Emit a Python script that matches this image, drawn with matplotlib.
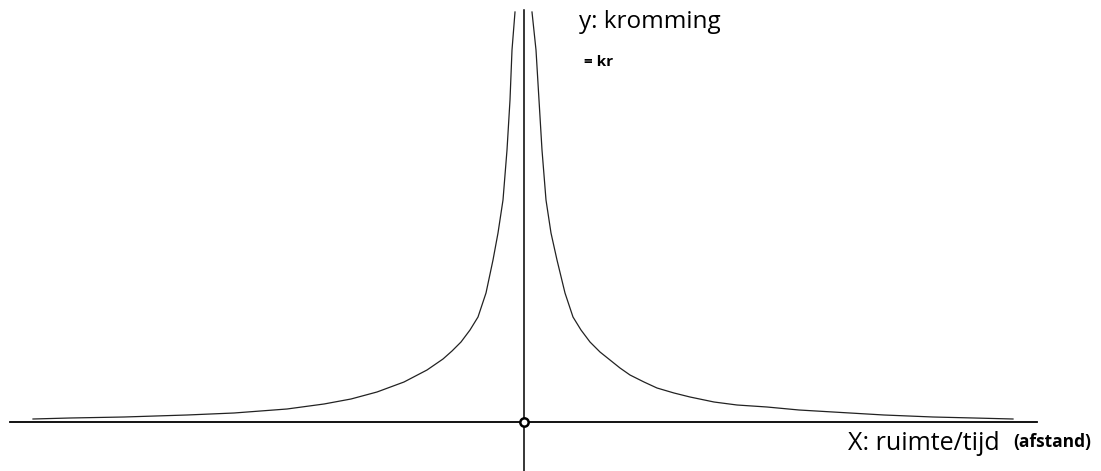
import matplotlib
matplotlib.use('Agg')
import matplotlib.pyplot as plt

# curve: distance from the y-axis and height above the x-axis (px)
right_x = [8, 12, 15, 18, 22, 27, 33, 41, 49, 57, 66, 76, 86, 96, 106, 120, 133, 150, 166,
           190, 213, 243, 275, 309, 360, 409, 450, 489]
right_y = [410, 372, 322, 272, 222, 189, 162, 129, 105, 92, 80, 70, 62, 54, 47, 40, 34, 29, 25,
           20, 17, 15, 12, 10, 7, 5, 4, 3]
left_x = [-9, -12, -14, -17, -21, -26, -31, -38, -46, -54, -63, -72, -81, -97, -120, -147,
          -173, -200, -237, -290, -337, -400, -454, -491]
left_y = [410, 372, 322, 272, 222, 189, 162, 129, 105, 92, 80, 71, 63, 52, 40, 30,
          23, 18, 13, 9, 7, 5, 4, 3]

origin = (0, 0)

fig = plt.figure(figsize=(11.01, 4.71), dpi=100)
ax = fig.add_axes([0, 0, 1, 1])
ax.set_xlim(-524, 577)
ax.set_ylim(-49, 422)
ax.axis('off')

# axes of the sketch
ax.plot([-514, 513], [0, 0], color='black', lw=1.3)
ax.plot([0, 0], [412, -49], color='black', lw=1.1)

# the two branches
ax.plot(right_x, right_y, color='#222222', lw=0.9)
ax.plot(left_x, left_y, color='#222222', lw=0.9)

ax.plot(*origin, marker='o', ms=6, mfc='white', mec='black', mew=1.8, zorder=5)

ax.text(55, 400, 'y: kromming', fontsize=17.5, family='Open Sans', ha='left', va='center')
ax.text(60, 360, '= kr', fontsize=11, fontweight='bold', family='Open Sans',
        ha='left', va='center')
ax.text(324, -21, 'X: ruimte/tijd', fontsize=18, family='Open Sans', ha='left', va='center')
ax.text(489, -20, '(afstand)', fontsize=12.5, fontweight='bold', family='Open Sans',
        ha='left', va='center')

fig.savefig('out.png', dpi=100)
